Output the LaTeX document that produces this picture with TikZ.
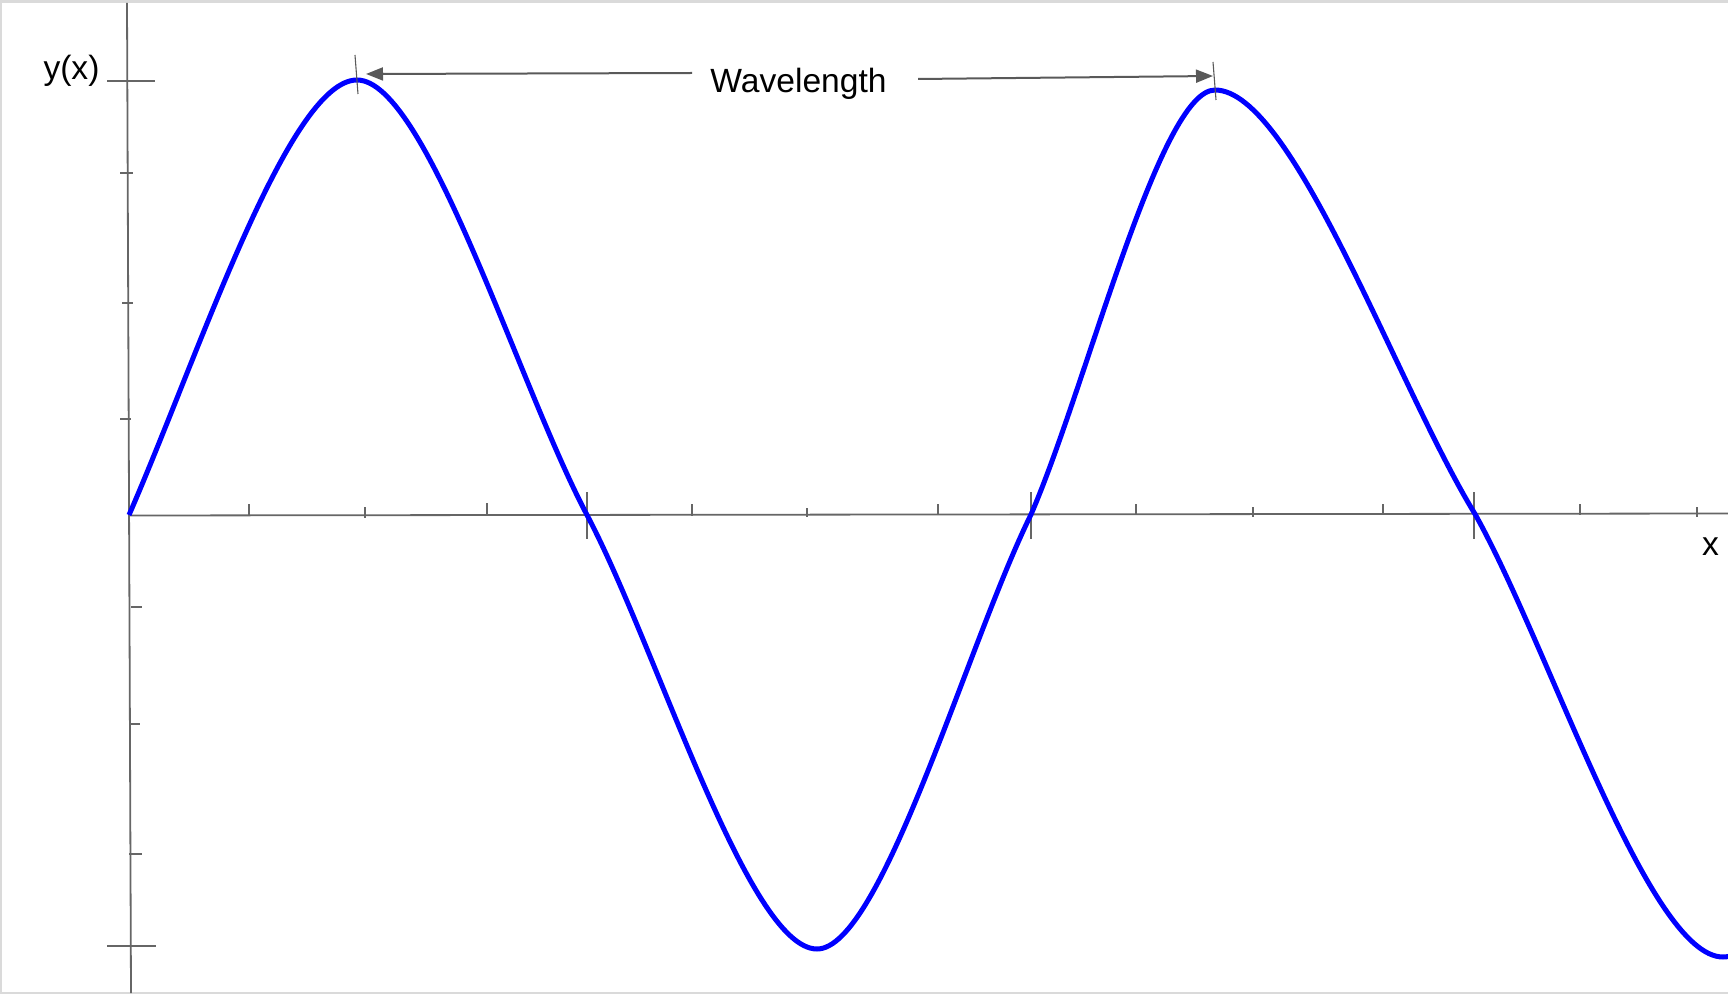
\documentclass[tikz,border=0pt]{standalone}
\usepackage{fontspec}
\setmainfont{Liberation Sans}
\usetikzlibrary{arrows.meta}
\definecolor{axisgray}{HTML}{666666}
\definecolor{arrowgray}{HTML}{595959}
\definecolor{framegray}{HTML}{DADADA}
\definecolor{wave}{HTML}{0000FF}
\begin{document}
\begin{tikzpicture}[x=0.5pt,y=-0.5pt,
  axis/.style={draw=axisgray,line width=0.9pt},
  tick/.style={draw=axisgray,line width=0.85pt},
  bigtick/.style={draw=axisgray,line width=0.9pt},
  marker/.style={draw=arrowgray,line width=0.55pt},
  dimarrow/.style={draw=arrowgray,line width=1pt,-{Triangle[length=8.5pt,width=6.5pt]}},
  wavecurve/.style={draw=wave,line width=2.5pt,line join=round},
  lbl/.style={font=\fontsize{16.8}{20}\selectfont,text=black,inner sep=0pt}]
\path[use as bounding box] (0,0) rectangle (1728,994);
\clip (0,0) rectangle (1728,994);
% frame
\draw[framegray,line width=1.6pt] (0,1.6) -- (1728,1.6);
\draw[framegray,line width=1pt] (1,0) -- (1,994);
\draw[framegray,line width=0.8pt] (0,993) -- (1728,993);
% axes
\coordinate (yTop) at (127,3);
\coordinate (yBot) at (131,993);
\coordinate (xL) at (129,515.5);
\coordinate (xR) at (1728,513.5);
\draw[axis] (yTop) -- (yBot);
\draw[axis] (xL) -- (xR);
% y ticks
\draw[bigtick] (107,81) -- (155,81);
\draw[tick] (120,173) -- (133,173);
\draw[tick] (122,303) -- (133,303);
\draw[tick] (120,419) -- (131,419);
\draw[tick] (131,607) -- (142,607);
\draw[tick] (130,724) -- (140,724);
\draw[tick] (129,854) -- (142,854);
\draw[bigtick] (107,946) -- (156,946);
% x ticks
\foreach \x/\a/\b in {129/502/515, 249/504/516, 365/507/518, 487/503/516, 692/504/516, 807/508/517, 938/504/515, 1136/504/515, 1253/507/517, 1383/504/515, 1580/504/515, 1697/507/517}
  \draw[tick] (\x,\a) -- (\x,\b);
\foreach \x in {587,1031,1474}
  \draw[bigtick] (\x,492) -- (\x,539);
% wave
\coordinate (O) at (129,515);
\coordinate (P1) at (357,80);
\coordinate (Z1) at (587,515);
\coordinate (T1) at (817,949);
\coordinate (Z2) at (1031,514.5);
\coordinate (P2) at (1215,90);
\coordinate (Z3) at (1475,514);
\coordinate (T2) at (1723,957);
\coordinate (Z4) at (1970,514);
\draw[wavecurve] (O) .. controls (197.4,358.4) and (288.6,80) .. (P1)
  .. controls (426,80) and (518,384.5) .. (Z1)
  .. controls (656,645.2) and (748,949) .. (T1)
  .. controls (881.2,949) and (966.8,644.85) .. (Z2)
  .. controls (1086.2,387.15) and (1159.8,90) .. (P2)
  .. controls (1293,90) and (1397,386.8) .. (Z3)
  .. controls (1549.4,646.9) and (1648.6,957) .. (T2)
  .. controls (1797.1,957) and (1895.9,646.9) .. (Z4);
% peak markers
\coordinate (m1a) at (355,55);
\coordinate (m1b) at (358,94);
\coordinate (m2a) at (1213,62);
\coordinate (m2b) at (1216,100);
\draw[marker] (m1a) -- (m1b);
\draw[marker] (m2a) -- (m2b);
% labels
\node[lbl,anchor=base] (ylab) at (71.5,80) {y(x)};
\node[lbl,anchor=base] (xlab) at (1710.5,555) {x};
\node[lbl,anchor=base] (wl) at (798.5,93) {Wavelength};
% wavelength arrows
\coordinate (wlLs) at (692,73);
\coordinate (wlLt) at (366,74);
\coordinate (wlRs) at (918,79);
\coordinate (wlRt) at (1213,76);
\draw[dimarrow] (wlLs) -- (wlLt);
\draw[dimarrow] (wlRs) -- (wlRt);
\end{tikzpicture}
\end{document}
